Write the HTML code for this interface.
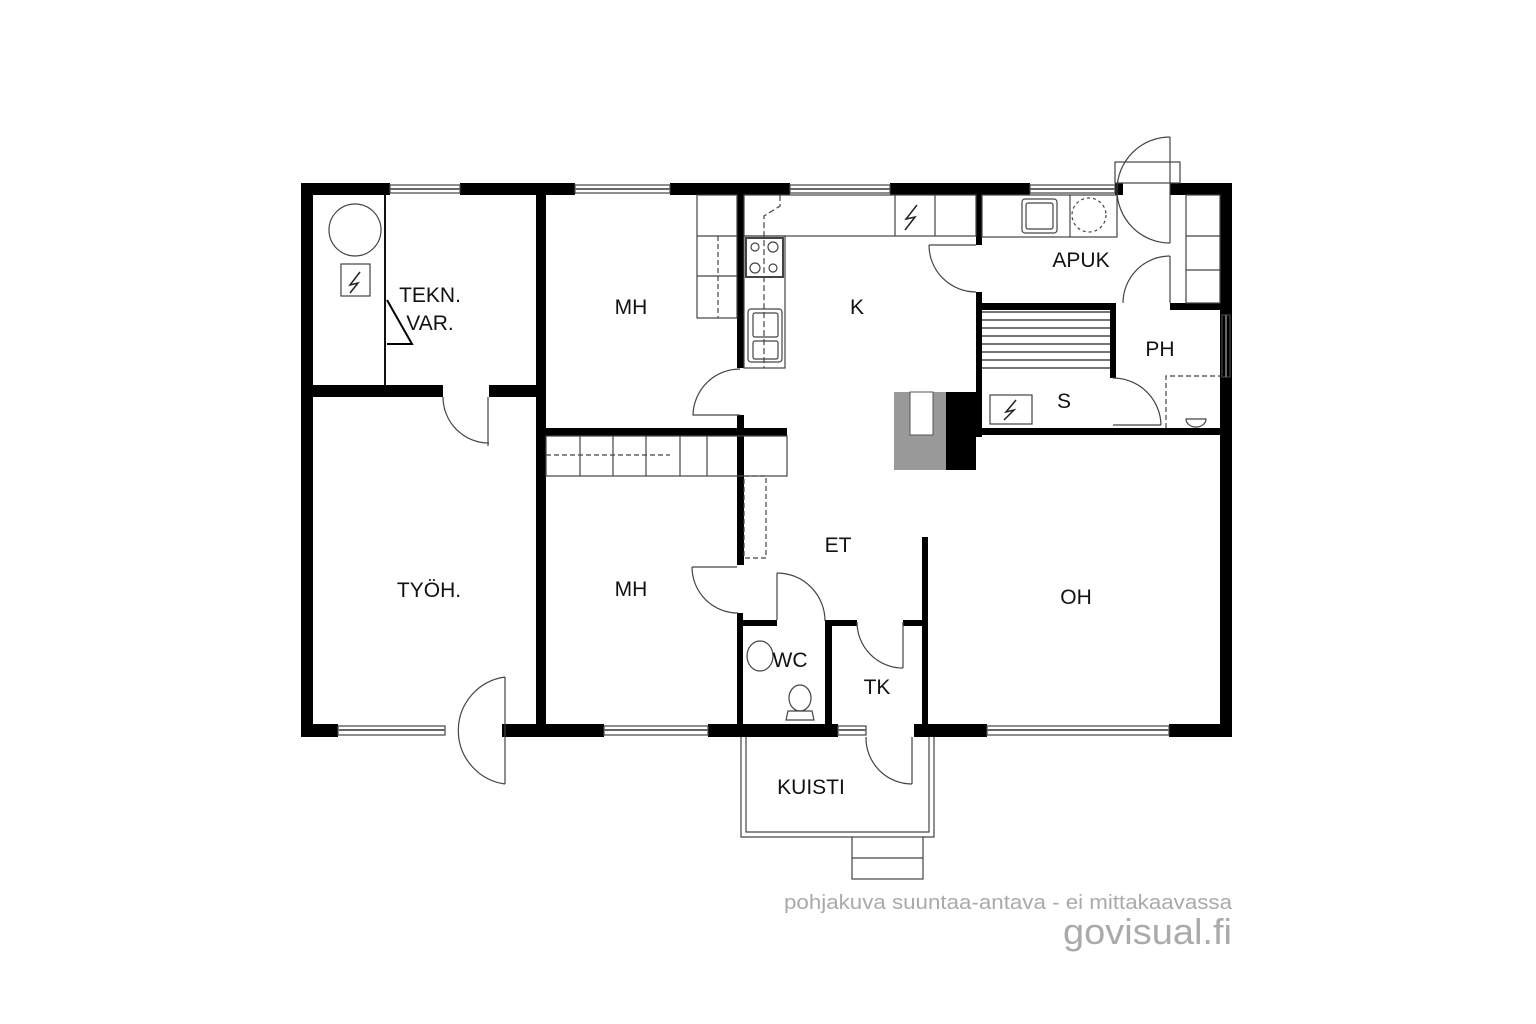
<!DOCTYPE html>
<html><head><meta charset="utf-8"><style>
html,body{margin:0;padding:0;background:#fff}
svg{display:block}
text{font-family:"Liberation Sans",sans-serif;fill:#111}
</style></head><body>
<svg width="1536" height="1024" viewBox="0 0 1536 1024" xmlns="http://www.w3.org/2000/svg">
<g fill="#000">
<rect x="301" y="183" width="12" height="554"/>
<rect x="1220" y="183" width="12" height="554"/>
<rect x="301" y="183" width="89" height="12"/>
<rect x="460" y="183" width="115" height="12"/>
<rect x="670" y="183" width="120" height="12"/>
<rect x="890" y="183" width="140" height="12"/>
<rect x="1115" y="183" width="8" height="12"/>
<rect x="1170" y="183" width="62" height="12"/>
<rect x="301" y="724" width="37" height="13"/>
<rect x="502" y="724" width="102" height="13"/>
<rect x="708" y="724" width="130" height="13"/>
<rect x="914" y="724" width="73" height="13"/>
<rect x="1169" y="724" width="63" height="13"/>
<rect x="536" y="195" width="10" height="529"/>
<rect x="313" y="385" width="130" height="12"/>
<rect x="489" y="385" width="47" height="12"/>
<rect x="737" y="195" width="7" height="173"/>
<rect x="737" y="415" width="7" height="150"/>
<rect x="546" y="428" width="241" height="8"/>
<rect x="737" y="613" width="6" height="111"/>
<rect x="737" y="620" width="40" height="6"/>
<rect x="825" y="620" width="7" height="104"/>
<rect x="825" y="620" width="32" height="6"/>
<rect x="903" y="620" width="24" height="6"/>
<rect x="922" y="537" width="6" height="187"/>
<rect x="976" y="195" width="6" height="50"/>
<rect x="976" y="292" width="6" height="145"/>
<rect x="976" y="303" width="137" height="7"/>
<rect x="1110" y="303" width="6" height="75"/>
<rect x="976" y="428" width="256" height="7"/>
<rect x="1170" y="303" width="50" height="7"/>
<rect x="946" y="392" width="30" height="78"/>
</g>
<rect x="894" y="392" width="52" height="78" fill="#999"/>
<rect x="910" y="392" width="23" height="43" fill="#fff" stroke="#555" stroke-width="1"/>
<g fill="none" stroke="#444" stroke-width="1.2">
<rect x="390" y="185" width="70" height="8"/>
<rect x="575" y="185" width="95" height="8"/>
<rect x="790" y="185" width="100" height="8"/>
<rect x="1030" y="185" width="85" height="8"/>
<rect x="338" y="726" width="107" height="9"/>
<rect x="604" y="726" width="104" height="9"/>
<rect x="838" y="726" width="28" height="9"/>
<rect x="987" y="726" width="182" height="9"/>
<rect x="1222" y="315" width="8" height="62"/>
<g stroke="#666" stroke-width="2">
<line x1="390" y1="189" x2="460" y2="189"/><line x1="575" y1="189" x2="670" y2="189"/>
<line x1="790" y1="189" x2="890" y2="189"/><line x1="1030" y1="189" x2="1115" y2="189"/>
<line x1="338" y1="730" x2="445" y2="730"/><line x1="604" y1="730" x2="708" y2="730"/>
<line x1="838" y1="730" x2="866" y2="730"/><line x1="987" y1="730" x2="1169" y2="730"/>
<line x1="1226" y1="315" x2="1226" y2="377"/>
</g>
<line x1="385" y1="195" x2="385" y2="385" stroke="#111" stroke-width="2"/>
<path d="M443,397 A46,46 0 0 0 489,443"/><line x1="488" y1="397" x2="488" y2="446"/>
<path d="M740,369 A47,47 0 0 0 693,415 L740,415"/>
<path d="M692,567 A46,46 0 0 0 738,613"/><line x1="692" y1="567" x2="737" y2="567"/>
<path d="M777,573 A48,48 0 0 1 825,621"/><line x1="777" y1="573" x2="777" y2="620"/>
<path d="M857,622 A46,46 0 0 0 903,668"/><line x1="903" y1="622" x2="903" y2="668"/>
<path d="M866,737 A46,46 0 0 0 912,784"/><line x1="912" y1="737" x2="912" y2="784"/>
<path d="M505,677 A54,54 0 0 0 505,784"/><line x1="505" y1="677" x2="505" y2="784"/>
<path d="M1170,137 A53,53 0 0 0 1170,243"/><line x1="1170" y1="137" x2="1170" y2="243"/>
<rect x="1115" y="162" width="65" height="21"/>
<path d="M929,245 A47,47 0 0 0 976,292"/><line x1="929" y1="245" x2="976" y2="245"/>
<path d="M1123,303 A47,47 0 0 1 1170,256"/><line x1="1170" y1="256" x2="1170" y2="303"/>
<path d="M1113,378 A48,48 0 0 1 1161,425"/><line x1="1113" y1="425" x2="1161" y2="425"/>
<circle cx="355" cy="230" r="26"/>
<rect x="341" y="264" width="29" height="32"/>
<path d="M387,300 L412,344 L387,344" stroke="#000" stroke-width="2"/>
<rect x="697" y="195" width="40" height="123"/>
<line x1="697" y1="236" x2="737" y2="236"/><line x1="697" y1="276" x2="737" y2="276"/>
<line x1="718" y1="236" x2="718" y2="318" stroke-dasharray="5,3"/>
<rect x="546" y="436" width="241" height="40"/>
<line x1="580" y1="436" x2="580" y2="476"/><line x1="613" y1="436" x2="613" y2="476"/>
<line x1="646" y1="436" x2="646" y2="476"/><line x1="680" y1="436" x2="680" y2="476"/>
<line x1="707" y1="436" x2="707" y2="476"/>
<line x1="546" y1="455" x2="670" y2="455" stroke-dasharray="5,3"/>
<rect x="744" y="476" width="22" height="82" stroke-dasharray="5,3"/>
<rect x="744" y="195" width="232" height="41"/>
<rect x="744" y="236" width="41" height="132"/>
<line x1="895" y1="195" x2="895" y2="236"/><line x1="935" y1="195" x2="935" y2="236"/>
<path d="M780,195 L780,206 L764,216 L764,368" stroke-dasharray="6,3"/>
<rect x="746" y="238" width="37" height="39" stroke-width="2"/>
<circle cx="755" cy="247" r="4"/><circle cx="773" cy="247" r="5"/>
<circle cx="755" cy="268" r="5"/><circle cx="773" cy="268" r="4"/>
<rect x="748" y="309" width="34" height="53" rx="3"/>
<rect x="753" y="313" width="25" height="24" rx="2"/><rect x="753" y="341" width="25" height="18" rx="2"/>
<rect x="982" y="195" width="135" height="42"/>
<line x1="1070" y1="195" x2="1070" y2="237"/>
<rect x="1022" y="199" width="35" height="34" rx="3"/>
<rect x="1026" y="203" width="27" height="26" rx="2"/>
<circle cx="1089" cy="215" r="17" stroke-dasharray="3,3"/>
<rect x="1186" y="195" width="34" height="108"/>
<line x1="1186" y1="236" x2="1220" y2="236"/><line x1="1186" y1="270" x2="1220" y2="270"/>
<path d="M1166,428 L1166,376 L1220,376" stroke-dasharray="5,3"/>
<path d="M1186,419 A10,8 0 0 0 1206,419 Z"/>
<g stroke="#222">
<line x1="982" y1="312" x2="1110" y2="312"/><line x1="982" y1="320" x2="1110" y2="320"/>
<line x1="982" y1="328" x2="1110" y2="328"/><line x1="982" y1="336" x2="1110" y2="336"/>
<line x1="982" y1="344" x2="1110" y2="344"/><line x1="982" y1="352" x2="1110" y2="352"/>
<line x1="982" y1="360" x2="1110" y2="360"/><line x1="982" y1="368" x2="1110" y2="368"/>
</g>
<rect x="990" y="395" width="42" height="29"/>
<ellipse cx="760" cy="656" rx="13" ry="15"/>
<ellipse cx="800" cy="698" rx="11" ry="13"/>
<path d="M788,711 L812,711 L814,720 L786,720 Z"/>
<path d="M741,737 L741,837 L852,837 M923,837 L934,837 L934,737"/>
<path d="M746,737 L746,832 L929,832 L929,737"/>
<rect x="852" y="837" width="71" height="42"/>
<line x1="852" y1="858" x2="923" y2="858"/>
</g>
<g fill="none" stroke="#222" stroke-width="1.5">
<path d="M360,272 L350,285 L358,283 L350,293"/>
<path d="M917,205 L906,219 L915,217 L905,230"/>
<path d="M1016,400 L1006,412 L1014,410 L1004,420"/>
</g>
<g font-size="21" text-anchor="middle">
<text x="430" y="302">TEKN.</text>
<text x="430" y="330">VAR.</text>
<text x="631" y="314">MH</text>
<text x="857" y="314">K</text>
<text x="1081" y="267">APUK</text>
<text x="1160" y="356">PH</text>
<text x="1064" y="408">S</text>
<text x="429" y="597">TYÖH.</text>
<text x="631" y="596">MH</text>
<text x="838" y="552">ET</text>
<text x="1076" y="604">OH</text>
<text x="790" y="667">WC</text>
<text x="877" y="694">TK</text>
<text x="811" y="794">KUISTI</text>
</g>
<text x="784" y="909" font-size="20" textLength="448" lengthAdjust="spacingAndGlyphs" style="fill:#aaa">pohjakuva suuntaa-antava - ei mittakaavassa</text>
<text x="1063" y="944" font-size="36" textLength="169" lengthAdjust="spacingAndGlyphs" style="fill:#aaa">govisual.fi</text>
</svg>
</body></html>
